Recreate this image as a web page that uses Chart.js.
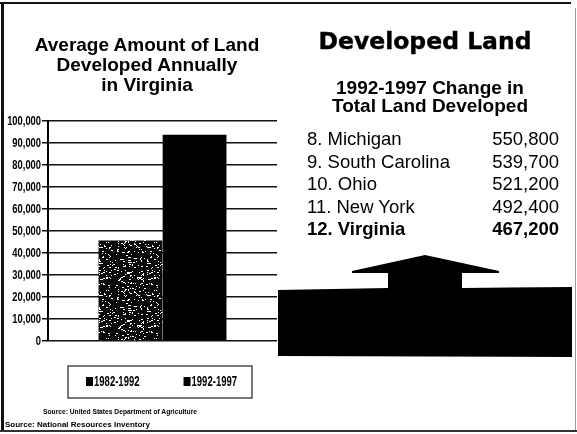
<!DOCTYPE html>
<html><head><meta charset="utf-8">
<script src="https://cdn.jsdelivr.net/npm/chart.js@4.4.0/dist/chart.umd.min.js"></script>
<style>
html,body{margin:0;padding:0;background:#fff;}
#page{position:relative;width:577px;height:434px;overflow:hidden;background:#fff;font-family:"Liberation Sans",Arial,sans-serif;color:#000;}
#chartWrap{position:absolute;left:0;top:0;width:290px;height:400px;}
.abs{position:absolute;white-space:nowrap;}
</style></head><body>
<div id="page">
  <div class="abs" style="left:0;top:2px;width:571px;height:2px;background:#111;"></div>
  <div class="abs" style="left:1px;top:3px;width:3px;height:428px;background:#111;"></div>
  <div class="abs" style="left:0;top:430px;width:577px;height:2px;background:#333;"></div>
  <div class="abs" style="left:575px;top:8px;width:1px;height:422px;background:#999;"></div>

  <div id="chartWrap"><canvas id="c" width="290" height="400"></canvas></div>

  <div id="leftTitle" class="abs" style="left:0;top:35.4px;width:294px;text-align:center;font-weight:bold;font-size:19px;line-height:20px;"></div>
  <div id="rightTitle" class="abs" style="left:275px;top:27px;width:300px;text-align:center;font-family:'DejaVu Sans';font-weight:bold;font-size:23.5px;line-height:28px;-webkit-text-stroke:0.4px #000;"></div>
  <div id="rightSub" class="abs" style="left:280px;top:79.4px;width:300px;text-align:center;font-weight:bold;font-size:19px;line-height:18px;"></div>
  <div id="rankList"></div>

  <svg class="abs" style="left:0;top:0;" width="577" height="434">
    <polygon fill="#000" points="278,290 388,288 388,273 352,273 352,271 425,255 499,271 499,273 462,273 462,288 572,287 572,357 278,356"/>
  </svg>

  <div id="src1" class="abs" style="left:0;top:407.7px;width:240px;text-align:center;font-weight:bold;font-size:6.7px;line-height:8px;"></div>
  <div id="src2" class="abs" style="left:5px;top:420.2px;font-weight:bold;font-size:8px;line-height:10px;"></div>
</div>
<script>
// ---- Data ----
const periods = ['1982-1992', '1992-1997'];
const avgAcres = [45700, 93800];
const yTicks = [0, 10000, 20000, 30000, 40000, 50000, 60000, 70000, 80000, 90000, 100000];
const leftTitleLines = ['Average Amount of Land', 'Developed Annually', 'in Virginia'];
const rightTitle = 'Developed Land';
const rightSubLines = ['1992-1997 Change in', 'Total Land Developed'];
const ranks = ['8.', '9.', '10.', '11.', '12.'];
const states = ['Michigan', 'South Carolina', 'Ohio', 'New York', 'Virginia'];
const changeAcres = ['550,800', '539,700', '521,200', '492,400', '467,200'];
const sourceLines = ['Source: United States Department of Agriculture', 'Source: National Resources Inventory'];

// ---- Text ----
document.getElementById('leftTitle').innerHTML = leftTitleLines.join('<br>');
document.getElementById('rightTitle').textContent = rightTitle;
document.getElementById('rightSub').innerHTML = rightSubLines.join('<br>');
document.getElementById('src1').textContent = sourceLines[0];
document.getElementById('src2').textContent = sourceLines[1];
const list = document.getElementById('rankList');
states.forEach((s, i) => {
  const top = 128.3 + i * 22.5;
  const bold = (s === 'Virginia') ? 'font-weight:bold;' : '';
  const a = document.createElement('div');
  a.className = 'abs';
  a.style.cssText = `left:307px;top:${top}px;font-size:18.5px;line-height:22.5px;${bold}`;
  a.textContent = ranks[i] + ' ' + s;
  const b = document.createElement('div');
  b.className = 'abs';
  b.style.cssText = `left:460px;width:99px;text-align:right;top:${top}px;font-size:18.5px;line-height:22.5px;${bold}`;
  b.textContent = changeAcres[i];
  list.appendChild(a); list.appendChild(b);
});

// ---- Speckle pattern (deterministic) ----
function speckle() {
  const c = document.createElement('canvas');
  c.width = 48; c.height = 48;
  const g = c.getContext('2d');
  g.fillStyle = '#0a0a0a';
  g.fillRect(0, 0, 48, 48);
  g.fillStyle = '#ffffff';
  for (let y = 0; y < 48; y++) {
    for (let x = 0; x < 48; x++) {
      let h = (x * 374761393 + y * 668265263) >>> 0;
      h = ((h ^ (h >>> 13)) * 1274126177) >>> 0;
      h = (h ^ (h >>> 16)) >>> 0;
      if ((h % 100) < 9) g.fillRect(x, y, (h % 4 === 0) ? 2 : 1, 1);
    }
  }
  return g.createPattern(c, 'repeat');
}
const pat = speckle();

const condensedText = (ctx, text, x, y, sx, align) => {
  ctx.save();
  ctx.translate(x, y);
  ctx.scale(sx, 1);
  ctx.textAlign = align;
  ctx.fillText(text, 0, 0);
  ctx.restore();
};

// condensed tick labels drawn through the y scale
const condTicks = {
  id: 'condTicks',
  afterDraw(chart) {
    const s = chart.scales.y;
    const ctx = chart.ctx;
    ctx.save();
    ctx.fillStyle = '#000';
    ctx.font = 'bold 13px "Liberation Sans", Arial, sans-serif';
    ctx.textBaseline = 'middle';
    s.ticks.forEach(t => {
      const y = s.getPixelForValue(t.value);
      condensedText(ctx, t.value.toLocaleString('en-US'), s.right - 7, y, 0.72, 'right');
    });
    ctx.restore();
  }
};

const boxLegend = {
  id: 'boxLegend',
  afterDraw(chart, args, opts) {
    const ctx = chart.ctx;
    ctx.save();
    ctx.strokeStyle = '#222';
    ctx.lineWidth = 1.2;
    ctx.strokeRect(opts.left, opts.top, opts.width, opts.height);
    ctx.font = 'bold 14px "Liberation Sans", Arial, sans-serif';
    ctx.textBaseline = 'middle';
    let x = opts.itemStart;
    const cy = opts.top + opts.height / 2;
    chart.data.datasets.forEach((ds) => {
      ctx.fillStyle = '#000';
      ctx.fillRect(x, cy - 5, 7, 9);
      x += 8;
      condensedText(ctx, ds.label, x, cy, 0.68, 'left');
      x += ctx.measureText(ds.label).width * 0.68 + opts.gap;
    });
    ctx.restore();
  }
};

new Chart(document.getElementById('c'), {
  type: 'bar',
  data: {
    labels: [''],
    datasets: [
      { label: periods[0], data: [avgAcres[0]], backgroundColor: pat, borderWidth: 0 },
      { label: periods[1], data: [avgAcres[1]], backgroundColor: '#000', borderWidth: 0 }
    ]
  },
  options: {
    responsive: false,
    animation: false,
    events: [],
    layout: { padding: { top: 121, right: 13, bottom: 59, left: 0 } },
    datasets: { bar: { categoryPercentage: 0.56, barPercentage: 0.995 } },
    plugins: {
      legend: { display: false },
      title: { display: false },
      tooltip: { enabled: false },
      boxLegend: { left: 68, top: 366, width: 184, height: 32, itemStart: 86, gap: 44 }
    },
    scales: {
      x: { display: false },
      y: {
        min: 0, max: 100000,
        afterBuildTicks: (s) => { s.ticks = yTicks.map(v => ({ value: v })); },
        afterFit: (s) => { s.width = 48; },
        border: { color: '#000', width: 2 },
        grid: { color: '#111', lineWidth: 1.5, tickLength: 6, drawTicks: true },
        ticks: { display: false }
      }
    }
  },
  plugins: [condTicks, boxLegend]
});
</script>
</body></html>
